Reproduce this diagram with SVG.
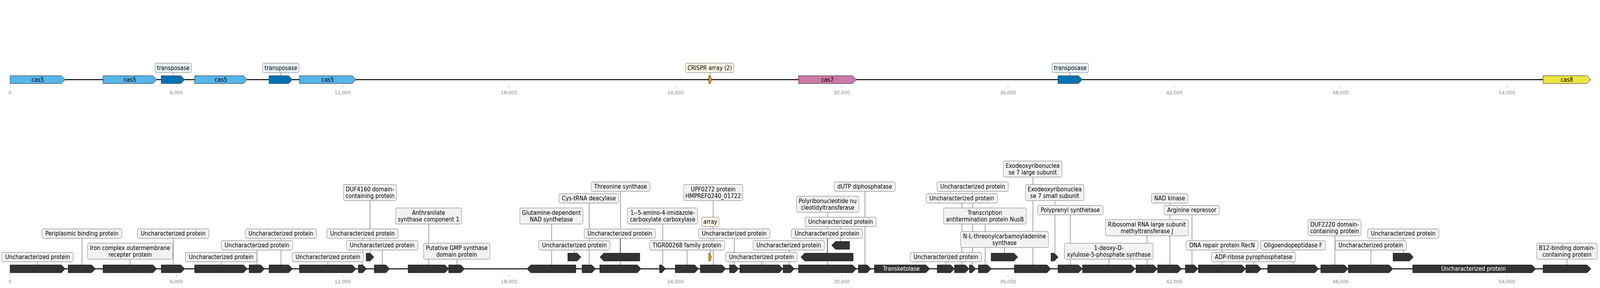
<svg xmlns="http://www.w3.org/2000/svg" width="4469" height="736" viewBox="0 0 4469 736">
<style>
.g{fill:#333333;stroke:#000;stroke-width:1}
.lb{fill:#f2f2f2;stroke:#999;stroke-width:1.3}
.tb{fill:#e7f4fb;stroke:#999;stroke-width:1.3}
.cb{fill:#fff7e6;stroke:#999;stroke-width:1.3}
.t{font-family:"DejaVu Sans","Liberation Sans",sans-serif;font-size:15px;fill:#000;text-anchor:middle}
.w{fill:#fff}
.tk{stroke:#888;stroke-width:1}
.tl{font-family:"DejaVu Sans","Liberation Sans",sans-serif;font-size:13px;fill:#888;text-anchor:middle}
.c{stroke:#444;stroke-width:1;fill:none}
.bl{stroke:#000;stroke-width:2.5}
.cas5{fill:#56B4E9;stroke:#222;stroke-width:1}
.tp{fill:#0072B2;stroke:#222;stroke-width:1}
.cas7{fill:#CC79A7;stroke:#222;stroke-width:1}
.cas8{fill:#F0E442;stroke:#222;stroke-width:1}
.cr{fill:#E69F00;stroke:#222;stroke-width:1}
</style>
<rect width="4469" height="736" fill="#fff"/>
<g id="diagram" transform="scale(0.916,1)">
<g id="axes">
<line class="bl" x1="28.3" y1="203.5" x2="4446" y2="203.5"/>
<line class="bl" x1="28.3" y1="687" x2="4446" y2="687"/>
<g class="tk">
<line x1="28.3" y1="219.5" x2="28.3" y2="223.5"/><line x1="493.1" y1="219.5" x2="493.1" y2="223.5"/><line x1="957.9" y1="219.5" x2="957.9" y2="223.5"/><line x1="1422.7" y1="219.5" x2="1422.7" y2="223.5"/><line x1="1887.5" y1="219.5" x2="1887.5" y2="223.5"/><line x1="2352.3" y1="219.5" x2="2352.3" y2="223.5"/><line x1="2817.1" y1="219.5" x2="2817.1" y2="223.5"/><line x1="3281.9" y1="219.5" x2="3281.9" y2="223.5"/><line x1="3746.7" y1="219.5" x2="3746.7" y2="223.5"/><line x1="4211.5" y1="219.5" x2="4211.5" y2="223.5"/>
<line x1="28.3" y1="703" x2="28.3" y2="707"/><line x1="493.1" y1="703" x2="493.1" y2="707"/><line x1="957.9" y1="703" x2="957.9" y2="707"/><line x1="1422.7" y1="703" x2="1422.7" y2="707"/><line x1="1887.5" y1="703" x2="1887.5" y2="707"/><line x1="2352.3" y1="703" x2="2352.3" y2="707"/><line x1="2817.1" y1="703" x2="2817.1" y2="707"/><line x1="3281.9" y1="703" x2="3281.9" y2="707"/><line x1="3746.7" y1="703" x2="3746.7" y2="707"/><line x1="4211.5" y1="703" x2="4211.5" y2="707"/>
</g>
<g class="tl">
<text x="28.3" y="241">0</text><text x="493.1" y="241">6,000</text><text x="957.9" y="241">12,000</text><text x="1422.7" y="241">18,000</text><text x="1887.5" y="241">24,000</text><text x="2352.3" y="241">30,000</text><text x="2817.1" y="241">36,000</text><text x="3281.9" y="241">42,000</text><text x="3746.7" y="241">48,000</text><text x="4211.5" y="241">54,000</text>
<text x="28.3" y="724">0</text><text x="493.1" y="724">6,000</text><text x="957.9" y="724">12,000</text><text x="1422.7" y="724">18,000</text><text x="1887.5" y="724">24,000</text><text x="2352.3" y="724">30,000</text><text x="2817.1" y="724">36,000</text><text x="3281.9" y="724">42,000</text><text x="3746.7" y="724">48,000</text><text x="4211.5" y="724">54,000</text>
</g>
</g>
<g id="connectors" class="c">
<line x1="484" y1="185.5" x2="484" y2="193.5"/><line x1="784.7" y1="185.5" x2="784.7" y2="193.5"/><line x1="1984.8" y1="185.5" x2="1984.8" y2="193.5"/><line x1="2990.8" y1="185.5" x2="2990.8" y2="193.5"/>
<line x1="105.3" y1="669" x2="105.3" y2="677"/>
<line x1="229.3" y1="609" x2="229.3" y2="677"/>
<line x1="363.3" y1="662.5" x2="363.3" y2="677"/>
<line x1="484.3" y1="609" x2="484.3" y2="677"/>
<line x1="618.3" y1="669" x2="618.3" y2="677"/>
<line x1="718.3" y1="639" x2="718.3" y2="677"/>
<line x1="785.3" y1="609" x2="785.3" y2="677"/>
<line x1="916.3" y1="669" x2="916.3" y2="677"/>
<line x1="1013.3" y1="609" x2="1013.3" y2="677"/>
<line x1="1068.3" y1="639" x2="1068.3" y2="677"/>
<line x1="1034.3" y1="512.5" x2="1034.3" y2="647"/>
<line x1="1198.3" y1="572.5" x2="1198.3" y2="677"/>
<line x1="1277.3" y1="662.5" x2="1277.3" y2="677"/>
<line x1="1541.7" y1="572.5" x2="1541.7" y2="677"/>
<line x1="1605.3" y1="639" x2="1605.3" y2="647"/>
<line x1="1646.7" y1="519" x2="1646.7" y2="677"/>
<line x1="1734.3" y1="489" x2="1734.3" y2="677"/>
<line x1="1733" y1="609" x2="1733" y2="647"/>
<line x1="1852.3" y1="572.5" x2="1852.3" y2="677"/>
<line x1="1920.3" y1="639" x2="1920.3" y2="677"/>
<line x1="1993.3" y1="512.5" x2="1993.3" y2="677"/>
<line x1="1985.3" y1="579" x2="1985.3" y2="647"/>
<line x1="2052.3" y1="609" x2="2052.3" y2="677"/>
<line x1="2128.3" y1="669" x2="2128.3" y2="677"/>
<line x1="2205.3" y1="639" x2="2205.3" y2="677"/>
<line x1="2313.3" y1="542.5" x2="2313.3" y2="677"/>
<line x1="2311.7" y1="609" x2="2311.7" y2="647"/>
<line x1="2349.3" y1="579" x2="2349.3" y2="617"/>
<line x1="2417.3" y1="489" x2="2417.3" y2="677"/>
<line x1="2644.3" y1="669" x2="2644.3" y2="677"/>
<line x1="2688.3" y1="519" x2="2688.3" y2="677"/>
<line x1="2718.3" y1="489" x2="2718.3" y2="677"/>
<line x1="2753.3" y1="572.5" x2="2753.3" y2="677"/>
<line x1="2807.3" y1="632.5" x2="2807.3" y2="647"/>
<line x1="2886.7" y1="452.5" x2="2886.7" y2="677"/>
<line x1="2948.3" y1="512.5" x2="2948.3" y2="647"/>
<line x1="2991.3" y1="549" x2="2991.3" y2="677"/>
<line x1="3099.3" y1="662.5" x2="3099.3" y2="677"/>
<line x1="3205.7" y1="602.5" x2="3205.7" y2="677"/>
<line x1="3269.7" y1="519" x2="3269.7" y2="677"/>
<line x1="3331.3" y1="549" x2="3331.3" y2="677"/>
<line x1="3415" y1="639" x2="3415" y2="677"/>
<line x1="3504.3" y1="669" x2="3504.3" y2="677"/>
<line x1="3614.3" y1="639" x2="3614.3" y2="677"/>
<line x1="3730.7" y1="602.5" x2="3730.7" y2="677"/>
<line x1="3831.3" y1="639" x2="3831.3" y2="677"/>
<line x1="3922.3" y1="609" x2="3922.3" y2="647"/>
<line x1="4379.3" y1="662.5" x2="4379.3" y2="677"/>
</g>
<g id="top-cas5-1"><polygon class="cas5" points="28.3,193.5 171.8,193.5 182.3,203.5 171.8,213.5 28.3,213.5"/><text class="t" x="105.3" y="209">cas5</text></g>
<g id="top-cas5-2"><polygon class="cas5" points="288,193.5 427.5,193.5 438,203.5 427.5,213.5 288,213.5"/><text class="t" x="363" y="209">cas5</text></g>
<g id="top-tp-1"><polygon class="tp" points="450.7,193.5 505.5,193.5 516,203.5 505.5,213.5 450.7,213.5"/><rect class="tb" x="433" y="161.5" width="102" height="24" rx="4"/><text class="t" x="484" y="179">transposase</text></g>
<g id="top-cas5-3"><polygon class="cas5" points="544,193.5 680.5,193.5 691,203.5 680.5,213.5 544,213.5"/><text class="t" x="617.5" y="209">cas5</text></g>
<g id="top-tp-2"><polygon class="tp" points="752,193.5 806.8,193.5 817.3,203.5 806.8,213.5 752,213.5"/><rect class="tb" x="734" y="161.5" width="102" height="24" rx="4"/><text class="t" x="785" y="179">transposase</text></g>
<g id="top-cas5-4"><polygon class="cas5" points="837,193.5 984.5,193.5 995,203.5 984.5,213.5 837,213.5"/><text class="t" x="916" y="209">cas5</text></g>
<g id="top-crispr"><polygon class="cr" points="1981,193.5 1985,193.5 1988.8,203.5 1985,213.5 1981,213.5"/><rect class="cb" x="1916" y="161.5" width="135" height="24" rx="4"/><text class="t" x="1983.5" y="179">CRISPR array (2)</text></g>
<g id="top-cas7"><polygon class="cas7" points="2231.7,193.5 2382.8,193.5 2393.3,203.5 2382.8,213.5 2231.7,213.5"/><text class="t" x="2312.5" y="209">cas7</text></g>
<g id="top-tp-3"><polygon class="tp" points="2957,193.5 3014.2,193.5 3024.7,203.5 3014.2,213.5 2957,213.5"/><rect class="tb" x="2940" y="161.5" width="102" height="24" rx="4"/><text class="t" x="2991" y="179">transposase</text></g>
<g id="top-cas8"><polygon class="cas8" points="4312.5,193.5 4435.5,193.5 4446,203.5 4435.5,213.5 4312.5,213.5"/><text class="t" x="4379" y="209">cas8</text></g>
<g id="b01"><polygon class="g" points="28.3,677 171.8,677 182.3,687 171.8,697 28.3,697"/><rect class="lb" x="5" y="645" width="199.7" height="24" rx="4"/><text class="t" x="104.9" y="662.5">Uncharacterized protein</text></g>
<g id="b02"><polygon class="g" points="190.7,677 256.2,677 266.7,687 256.2,697 190.7,697"/><rect class="lb" x="117.3" y="585" width="223" height="24" rx="4"/><text class="t" x="228.8" y="602.5">Periplasmic binding protein</text></g>
<g id="b03"><polygon class="g" points="288,677 427.5,677 438,687 427.5,697 288,697"/><rect class="lb" x="244.7" y="621.5" width="237.6" height="41" rx="4"/><text class="t" x="363.5" y="639">Iron complex outermembrane</text><text class="t" x="363.5" y="656">recepter protein</text></g>
<g id="b04"><polygon class="g" points="450.7,677 505.5,677 516,687 505.5,697 450.7,697"/><rect class="lb" x="384" y="585" width="199.7" height="24" rx="4"/><text class="t" x="483.9" y="602.5">Uncharacterized protein</text></g>
<g id="b05"><polygon class="g" points="544,677 680.5,677 691,687 680.5,697 544,697"/><rect class="lb" x="518.3" y="645" width="199.4" height="24" rx="4"/><text class="t" x="618" y="662.5">Uncharacterized protein</text></g>
<g id="b06"><polygon class="g" points="696.3,677 728.8,677 739.3,687 728.8,697 696.3,697"/><rect class="lb" x="618.3" y="615" width="199.4" height="24" rx="4"/><text class="t" x="718" y="632.5">Uncharacterized protein</text></g>
<g id="b07"><polygon class="g" points="752,677 806.8,677 817.3,687 806.8,697 752,697"/><rect class="lb" x="685.3" y="585" width="199.4" height="24" rx="4"/><text class="t" x="785" y="602.5">Uncharacterized protein</text></g>
<g id="b08"><polygon class="g" points="837,677 984.5,677 995,687 984.5,697 837,697"/><rect class="lb" x="816.7" y="645" width="199.4" height="24" rx="4"/><text class="t" x="916.4" y="662.5">Uncharacterized protein</text></g>
<g id="b09"><polygon class="g" points="1001.7,677 1013.8,677 1024.3,687 1013.8,697 1001.7,697"/><rect class="lb" x="913.3" y="585" width="199.4" height="24" rx="4"/><text class="t" x="1013" y="602.5">Uncharacterized protein</text></g>
<g id="b10"><polygon class="g" points="1046,677 1078.5,677 1089,687 1078.5,697 1046,697"/><rect class="lb" x="968.3" y="615" width="199.4" height="24" rx="4"/><text class="t" x="1068" y="632.5">Uncharacterized protein</text></g>
<g id="b11"><polygon class="g" points="1023.3,647 1034.5,647 1045,657 1034.5,667 1023.3,667"/><rect class="lb" x="959.7" y="471.5" width="148.6" height="41" rx="4"/><text class="t" x="1034" y="489">DUF4160 domain-</text><text class="t" x="1034" y="506">containing protein</text></g>
<g id="b12"><polygon class="g" points="1140.7,677 1243.5,677 1254,687 1243.5,697 1140.7,697"/><rect class="lb" x="1105.7" y="531.5" width="184" height="41" rx="4"/><text class="t" x="1197.7" y="549">Anthranilate</text><text class="t" x="1197.7" y="566">synthase component 1</text></g>
<g id="b13"><polygon class="g" points="1254,677 1287.8,677 1298.3,687 1287.8,697 1254,697"/><rect class="lb" x="1184" y="621.5" width="185" height="41" rx="4"/><text class="t" x="1276.5" y="639">Putative GMP synthase</text><text class="t" x="1276.5" y="656">domain protein</text></g>
<g id="b14"><polygon class="g" points="1472.7,687 1483.2,677 1609.3,677 1609.3,697 1483.2,697"/><rect class="lb" x="1452.7" y="531.5" width="176.6" height="41" rx="4"/><text class="t" x="1541" y="549">Glutamine-dependent</text><text class="t" x="1541" y="566">NAD synthetase</text></g>
<g id="b15"><polygon class="g" points="1587,647 1613.2,647 1623.7,657 1613.2,667 1587,667"/><rect class="lb" x="1505.7" y="615" width="199.3" height="24" rx="4"/><text class="t" x="1605.3" y="632.5">Uncharacterized protein</text></g>
<g id="b16"><polygon class="g" points="1626.7,677 1653.8,677 1664.3,687 1653.8,697 1626.7,697"/><rect class="lb" x="1562" y="495" width="167.3" height="24" rx="4"/><text class="t" x="1645.7" y="512.5">Cys-tRNA deacylase</text></g>
<g id="b17"><polygon class="g" points="1676.3,677 1781.2,677 1791.7,687 1781.2,697 1676.3,697"/><rect class="lb" x="1652" y="465" width="164.7" height="24" rx="4"/><text class="t" x="1734.3" y="482.5">Threonine synthase</text></g>
<g id="b18"><polygon class="g" points="1676.7,657 1687.2,647 1788,647 1788,667 1687.2,667"/><rect class="lb" x="1632.7" y="585" width="199" height="24" rx="4"/><text class="t" x="1732.2" y="602.5">Uncharacterized protein</text></g>
<g id="b19"><polygon class="g" points="1843.3,677 1849.5,677 1860,687 1849.5,697 1843.3,697"/><rect class="lb" x="1753.7" y="531.5" width="196.3" height="41" rx="4"/><text class="t" x="1851.8" y="549">1--5-amino-4-imidazole-</text><text class="t" x="1851.8" y="566">carboxylate carboxylase</text></g>
<g id="b20"><polygon class="g" points="1887.3,677 1941.5,677 1952,687 1941.5,697 1887.3,697"/><rect class="lb" x="1815" y="615" width="210" height="24" rx="4"/><text class="t" x="1920" y="632.5">TIGR00268 family protein</text></g>
<g id="b21"><polygon class="g" points="1957.3,677 2017.8,677 2028.3,687 2017.8,697 1957.3,697"/><rect class="lb" x="1910.3" y="471.5" width="165.7" height="41" rx="4"/><text class="t" x="1993.2" y="489">UPF0272 protein</text><text class="t" x="1993.2" y="506">HMPREF0240_01722</text></g>
<g id="b22"><polygon class="cr" points="1981,647 1984.5,647 1988.5,657 1984.5,667 1981,667"/><rect class="cb" x="1960.7" y="555" width="48.6" height="24" rx="4"/><text class="t" x="1985" y="572.5">array</text></g>
<g id="b23"><polygon class="g" points="2039,677 2053.5,677 2064,687 2053.5,697 2039,697"/><rect class="lb" x="1952.3" y="585" width="199.4" height="24" rx="4"/><text class="t" x="2052" y="602.5">Uncharacterized protein</text></g>
<g id="b24"><polygon class="g" points="2067.7,677 2177.8,677 2188.3,687 2177.8,697 2067.7,697"/><rect class="lb" x="2028.3" y="645" width="199.4" height="24" rx="4"/><text class="t" x="2128" y="662.5">Uncharacterized protein</text></g>
<g id="b25"><polygon class="g" points="2188.7,677 2209.5,677 2220,687 2209.5,697 2188.7,697"/><rect class="lb" x="2104.7" y="615" width="199.3" height="24" rx="4"/><text class="t" x="2204.3" y="632.5">Uncharacterized protein</text></g>
<g id="b26"><polygon class="g" points="2231.7,677 2382.8,677 2393.3,687 2382.8,697 2231.7,697"/><rect class="lb" x="2225.7" y="501.5" width="174.6" height="41" rx="4"/><text class="t" x="2313" y="519">Polyribonucleotide nu</text><text class="t" x="2313" y="536">cleotidyltransferase</text></g>
<g id="b27"><polygon class="g" points="2238.3,657 2248.8,647 2384.3,647 2384.3,667 2248.8,667"/><rect class="lb" x="2211.7" y="585" width="199.3" height="24" rx="4"/><text class="t" x="2311.3" y="602.5">Uncharacterized protein</text></g>
<g id="b28"><polygon class="g" points="2324.3,627 2334.8,617 2374.3,617 2374.3,637 2334.8,637"/><rect class="lb" x="2249.7" y="555" width="199" height="24" rx="4"/><text class="t" x="2349.2" y="572.5">Uncharacterized protein</text></g>
<g id="b29"><polygon class="g" points="2399,677 2423.5,677 2434,687 2423.5,697 2399,697"/><rect class="lb" x="2331.3" y="465" width="170.7" height="24" rx="4"/><text class="t" x="2416.7" y="482.5">dUTP diphosphatase</text></g>
<g id="b30"><polygon class="g" points="2443.7,677 2587.8,677 2598.3,687 2587.8,697 2443.7,697"/><text class="t w" x="2519" y="692.5">Transketolase</text></g>
<g id="b31"><polygon class="g" points="2619.3,677 2656.8,677 2667.3,687 2656.8,697 2619.3,697"/><rect class="lb" x="2544" y="645" width="199.3" height="24" rx="4"/><text class="t" x="2643.7" y="662.5">Uncharacterized protein</text></g>
<g id="b32"><polygon class="g" points="2667.7,677 2697.8,677 2708.3,687 2697.8,697 2667.7,697"/><rect class="lb" x="2588.3" y="495" width="199.4" height="24" rx="4"/><text class="t" x="2688" y="512.5">Uncharacterized protein</text></g>
<g id="b33"><polygon class="g" points="2709.3,677 2716.2,677 2726.7,687 2716.2,697 2709.3,697"/><rect class="lb" x="2618.7" y="465" width="199.3" height="24" rx="4"/><text class="t" x="2718.3" y="482.5">Uncharacterized protein</text></g>
<g id="b34"><polygon class="g" points="2734.3,677 2760.2,677 2770.7,687 2760.2,697 2734.3,697"/><rect class="lb" x="2637" y="531.5" width="231" height="41" rx="4"/><text class="t" x="2752.5" y="549">Transcription</text><text class="t" x="2752.5" y="566">antitermination protein NusB</text></g>
<g id="b35"><polygon class="g" points="2770,647 2833.8,647 2844.3,657 2833.8,667 2770,667"/><rect class="lb" x="2684.7" y="591.5" width="245.3" height="41" rx="4"/><text class="t" x="2807.3" y="609">N-L-threonylcarbamoyladenine</text><text class="t" x="2807.3" y="626">synthase</text></g>
<g id="b36"><polygon class="g" points="2835,677 2926.2,677 2936.7,687 2926.2,697 2835,697"/><rect class="lb" x="2804.3" y="411.5" width="163.4" height="41" rx="4"/><text class="t" x="2886" y="429">Exodeoxyribonuclea</text><text class="t" x="2886" y="446">se 7 large subunit</text></g>
<g id="b37"><polygon class="g" points="2937.3,647 2946.8,647 2957.3,657 2946.8,667 2937.3,667"/><rect class="lb" x="2866" y="471.5" width="163" height="41" rx="4"/><text class="t" x="2947.5" y="489">Exodeoxyribonuclea</text><text class="t" x="2947.5" y="506">se 7 small subunit</text></g>
<g id="b38"><polygon class="g" points="2957,677 3014.2,677 3024.7,687 3014.2,697 2957,697"/><rect class="lb" x="2900" y="525" width="182.7" height="24" rx="4"/><text class="t" x="2991.3" y="542.5">Polyprenyl synthetase</text></g>
<g id="b39"><polygon class="g" points="3025.3,677 3161.8,677 3172.3,687 3161.8,697 3025.3,697"/><rect class="lb" x="2975" y="621.5" width="247.7" height="41" rx="4"/><text class="t" x="3098.8" y="639">1-deoxy-D-</text><text class="t" x="3098.8" y="656">xylulose-5-phosphate synthase</text></g>
<g id="b40"><polygon class="g" points="3174.7,677 3224.2,677 3234.7,687 3224.2,697 3174.7,697"/><rect class="lb" x="3089.3" y="561.5" width="232" height="41" rx="4"/><text class="t" x="3205.3" y="579">Ribosomal RNA large subunit</text><text class="t" x="3205.3" y="596">methyltransferase J</text></g>
<g id="b41"><polygon class="g" points="3235.3,677 3291.5,677 3302,687 3291.5,697 3235.3,697"/><rect class="lb" x="3218" y="495" width="102" height="24" rx="4"/><text class="t" x="3269" y="512.5">NAD kinase</text></g>
<g id="b42"><polygon class="g" points="3313,677 3337.5,677 3348,687 3337.5,697 3313,697"/><rect class="lb" x="3253.3" y="525" width="155" height="24" rx="4"/><text class="t" x="3330.8" y="542.5">Arginine repressor</text></g>
<g id="b43"><polygon class="g" points="3349.3,677 3470.5,677 3481,687 3470.5,697 3349.3,697"/><rect class="lb" x="3315" y="615" width="201" height="24" rx="4"/><text class="t" x="3415.5" y="632.5">DNA repair protein RecN</text></g>
<g id="b44"><polygon class="g" points="3481.7,677 3514.5,677 3525,687 3514.5,697 3481.7,697"/><rect class="lb" x="3386" y="645" width="235" height="24" rx="4"/><text class="t" x="3503.5" y="662.5">ADP-ribose pyrophosphatase</text></g>
<g id="b45"><polygon class="g" points="3543,677 3674.5,677 3685,687 3674.5,697 3543,697"/><rect class="lb" x="3523" y="615" width="181.3" height="24" rx="4"/><text class="t" x="3613.7" y="632.5">Oligoendopeptidase F</text></g>
<g id="b46"><polygon class="g" points="3691.3,677 3757.2,677 3767.7,687 3757.2,697 3691.3,697"/><rect class="lb" x="3655.7" y="561.5" width="148.3" height="41" rx="4"/><text class="t" x="3729.9" y="579">DUF2220 domain-</text><text class="t" x="3729.9" y="596">containing protein</text></g>
<g id="b47"><polygon class="g" points="3768.3,677 3882.2,677 3892.7,687 3882.2,697 3768.3,697"/><rect class="lb" x="3731.7" y="615" width="199" height="24" rx="4"/><text class="t" x="3831.2" y="632.5">Uncharacterized protein</text></g>
<g id="b48"><polygon class="g" points="3893.3,647 3939.5,647 3950,657 3939.5,667 3893.3,667"/><rect class="lb" x="3822" y="585" width="199.3" height="24" rx="4"/><text class="t" x="3921.7" y="602.5">Uncharacterized protein</text></g>
<g id="b49"><polygon class="g" points="3948.4,677 4281.4,677 4291.9,687 4281.4,697 3948.4,697"/><text class="t w" x="4118" y="692.5">Uncharacterized protein</text></g>
<g id="b50"><polygon class="g" points="4312.5,677 4435.5,677 4446,687 4435.5,697 4312.5,697"/><rect class="lb" x="4294.6" y="621.5" width="169.4" height="41" rx="4"/><text class="t" x="4379.3" y="639">B12-binding domain-</text><text class="t" x="4379.3" y="656">containing protein</text></g>
</g>
</svg>
